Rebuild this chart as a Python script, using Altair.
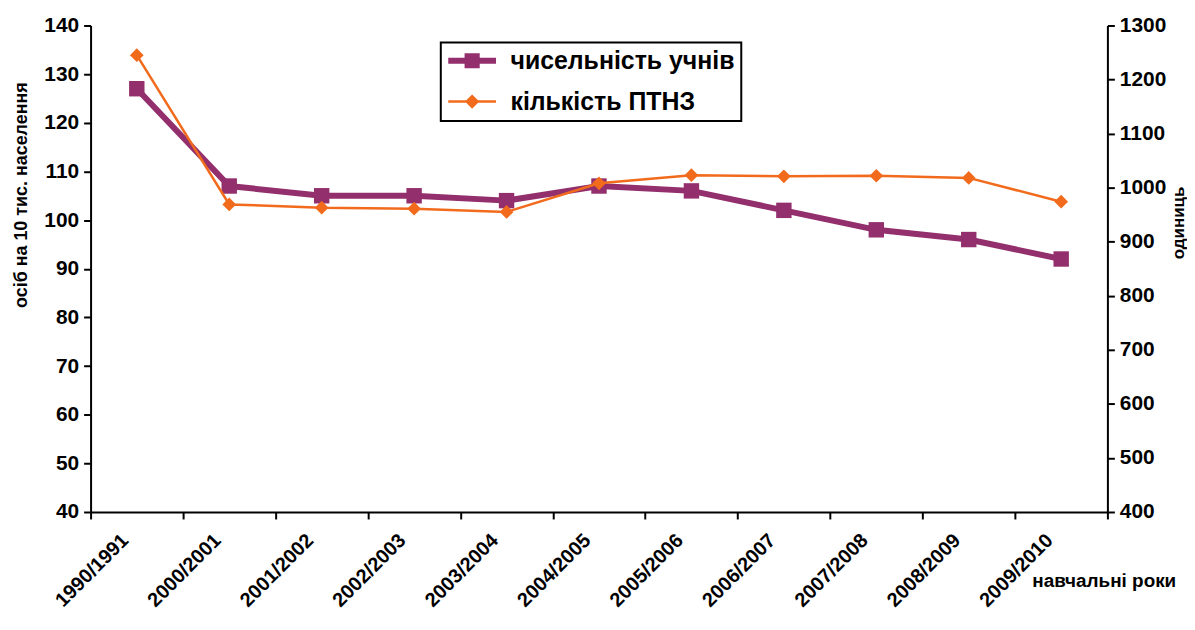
import altair as alt
import pandas as pd

years = ["1990/1991", "2000/2001", "2001/2002", "2002/2003", "2003/2004",
         "2004/2005", "2005/2006", "2006/2007", "2007/2008", "2008/2009", "2009/2010"]
students = [127, 107, 105, 105, 104, 107, 106, 102, 98, 96, 92]
ptnz = [1245, 969, 963, 961, 955, 1008, 1023, 1021, 1022, 1018, 974]

series_names = ["чисельність учнів", "кількість ПТНЗ"]
series_colors = ["#922F6C", "#F26B1D"]
legend_shapes = [
    "M-3,-0.38 L3,-0.38 L3,0.38 L-3,0.38 Z M-0.95,-0.95 L0.95,-0.95 L0.95,0.95 L-0.95,0.95 Z",
    "M-3,-0.16 L3,-0.16 L3,0.16 L-3,0.16 Z M0,-0.9 L0.9,0 L0,0.9 L-0.9,0 Z",
]

df = pd.DataFrame({"year": years, "students": students, "ptnz": ptnz})
leg_df = pd.DataFrame({"series": series_names})

FONT = "Liberation Sans"

xenc = alt.X(
    "year:O",
    sort=years,
    bandPosition=0.5,
    scale=alt.Scale(type="band", paddingInner=0, paddingOuter=0),
    axis=alt.Axis(
        title="навчальні роки",
        titleX=946, titleY=69, titleAlign="left", titleBaseline="middle", titleAngle=0,
        titleFontSize=19, titleFontWeight="bold", titleFont=FONT, titleColor="black",
        labelAngle=315, labelAlign="right", labelBaseline="middle",
        labelFontSize=20, labelFontWeight="bold", labelFont=FONT, labelColor="black",
        labelPadding=18, labelOffset=-12,
        tickBand="extent", tickSize=7, tickWidth=2, tickColor="black",
        domainColor="black", domainWidth=2, grid=False,
    ),
)

base = alt.Chart(df)

y_left = alt.Y(
    "students:Q",
    scale=alt.Scale(domain=[40, 140], nice=False, zero=False),
    axis=alt.Axis(
        orient="left", values=list(range(40, 141, 10)), format="d",
        title="осіб на 10 тис. населення",
        titleX=-69, titleY=170, titleAngle=270, titleAlign="center", titleBaseline="middle",
        titleFontSize=18, titleFontWeight="bold", titleFont=FONT, titleColor="black",
        labelFontSize=21, labelFontWeight="bold", labelFont=FONT, labelColor="black",
        labelPadding=5, tickSize=7, tickWidth=2, tickColor="black",
        domainColor="black", domainWidth=2, grid=False,
    ),
)
y_right = alt.Y(
    "ptnz:Q",
    scale=alt.Scale(domain=[400, 1300], nice=False, zero=False),
    axis=alt.Axis(
        orient="right", values=list(range(400, 1301, 100)), format="d",
        title="одиниць",
        titleX=71, titleY=198, titleAngle=270, titleAlign="center", titleBaseline="middle",
        titleFontSize=17, titleFontWeight="bold", titleFont=FONT, titleColor="black",
        labelFontSize=21, labelFontWeight="bold", labelFont=FONT, labelColor="black",
        labelPadding=5, tickSize=7, tickWidth=2, tickColor="black",
        domainColor="black", domainWidth=2, grid=False,
    ),
)

p_line = base.mark_line(color=series_colors[0], strokeWidth=6).encode(x=xenc, y=y_left)
p_pts = base.mark_point(shape="square", filled=True, size=240, color=series_colors[0], opacity=1).encode(x=xenc, y=y_left)
o_line = base.mark_line(color=series_colors[1], strokeWidth=2.5).encode(x=xenc, y=y_right)
o_pts = base.mark_point(shape="diamond", filled=True, size=190, color=series_colors[1], opacity=1).encode(x=xenc, y=y_right)

legend_layer = alt.Chart(leg_df).transform_filter("false").mark_point(filled=True, size=256).encode(
    color=alt.Color("series:N", scale=alt.Scale(domain=series_names, range=series_colors),
                    legend=alt.Legend(title=None, orient="none", legendX=352, legendY=17,
                                      direction="vertical")),
    shape=alt.Shape("series:N", scale=alt.Scale(domain=series_names, range=legend_shapes),
                    legend=alt.Legend(title=None, orient="none", legendX=352, legendY=17,
                                      direction="vertical")),
)

chart = alt.layer(
    alt.layer(p_line, p_pts),
    alt.layer(o_line, o_pts),
    legend_layer,
).resolve_scale(y="independent").properties(
    width=1022, height=489,
    autosize=alt.AutoSizeParams(type="none"),
    padding={"left": 83, "top": 16, "right": 80, "bottom": 109},
    background="white",
).configure_view(stroke=None).configure_legend(
    strokeColor="black", strokeWidth=2, padding=6, fillColor="white",
    labelFont=FONT, labelFontSize=25, labelFontWeight="bold", labelColor="black",
    labelLimit=0, labelOffset=26, symbolOffset=13, symbolSize=256,
    symbolStrokeWidth=0, rowPadding=15, symbolOpacity=1,
)

chart.save("out.html", embed_options={"renderer": "svg", "actions": False})
